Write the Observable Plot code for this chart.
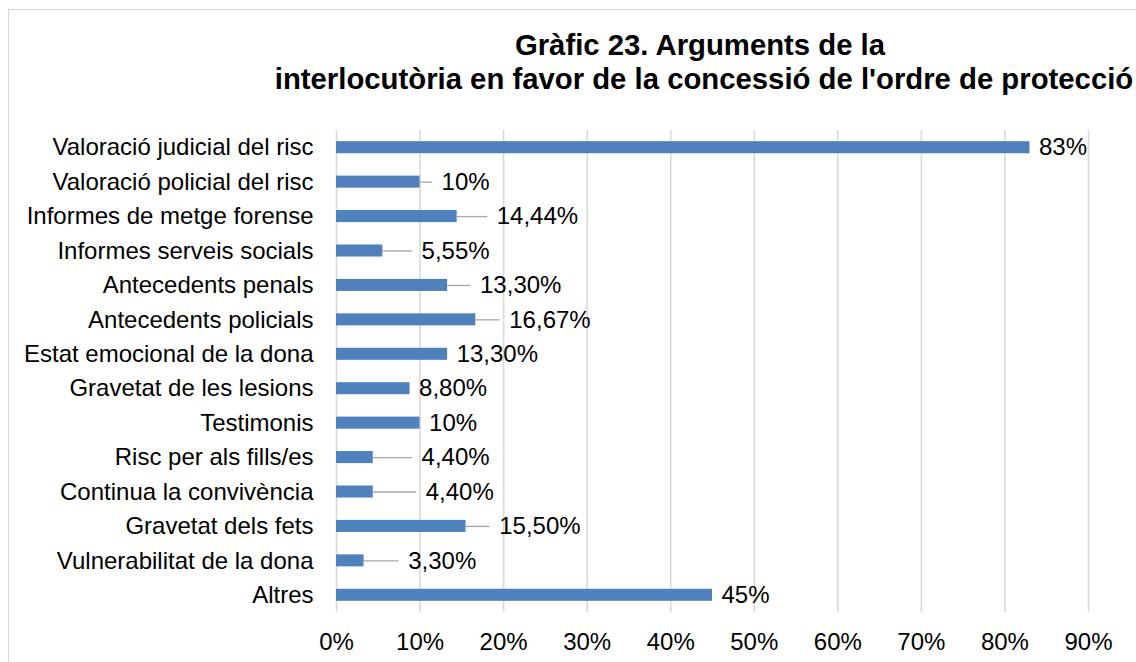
<!DOCTYPE html>
<html>
<head>
<meta charset="utf-8">
<script src="https://cdn.jsdelivr.net/npm/d3@7"></script>
<script src="https://cdn.jsdelivr.net/npm/@observablehq/plot@0.6"></script>
<style>
  html, body { margin: 0; padding: 0; background: #fff; }
  #wrap { position: relative; width: 1136px; height: 662px; overflow: hidden; font-family: "Liberation Sans", Arial, sans-serif; }
  #frame { position: absolute; left: 8px; top: 9px; width: 1140px; height: 670px; border: 1px solid #d9d9d9; box-sizing: border-box; }
  #title { position: absolute; left: 704px; top: 28px; transform: translateX(-50%); white-space: nowrap; text-align: center; font-weight: bold; font-size: 29.3px; line-height: 34px; color: #000; }
  #title .l1 { padding-right: 8px; }
  #chart { position: absolute; left: 0; top: 0; }
</style>
</head>
<body>
<div id="wrap">
  <div id="frame"></div>
  <div id="chart"></div>
  <div id="title"><div class="l1">Gràfic 23. Arguments de la</div><div>interlocutòria en favor de la concessió de l'ordre de protecció</div></div>
</div>
<script>
const categories = [
  "Valoració judicial del risc",
  "Valoració policial del risc",
  "Informes de metge forense",
  "Informes serveis socials",
  "Antecedents penals",
  "Antecedents policials",
  "Estat emocional de la dona",
  "Gravetat de les lesions",
  "Testimonis",
  "Risc per als fills/es",
  "Continua la convivència",
  "Gravetat dels fets",
  "Vulnerabilitat de la dona",
  "Altres"
];
const values = [83, 10, 14.44, 5.55, 13.3, 16.67, 13.3, 8.8, 10, 4.4, 4.4, 15.5, 3.3, 45];
const valueLabels = ["83%", "10%", "14,44%", "5,55%", "13,30%", "16,67%", "13,30%", "8,80%", "10%", "4,40%", "4,40%", "15,50%", "3,30%", "45%"];
// where each (manually moved) data label sits, in percent units
const labelAt = [83, 11.5, 18.1, 9.1, 16.1, 19.6, 13.3, 8.8, 10, 9.1, 9.6, 18.4, 7.5, 45];
const xTicks = [0, 10, 20, 30, 40, 50, 60, 70, 80, 90];

const data = categories.map((c, i) => ({c, v: values[i], label: valueLabels[i], at: labelAt[i]}));
const font = '"Liberation Sans", Arial, sans-serif';

const chart = Plot.plot({
  width: 1136,
  height: 662,
  marginLeft: 336,
  marginRight: 48,
  marginTop: 130,
  marginBottom: 50,
  style: {fontFamily: font, fontSize: "24px", color: "#000", background: "transparent"},
  x: {domain: [0, 90], ticks: xTicks},
  y: {domain: categories, paddingInner: 0.65, paddingOuter: 0.325, round: false},
  marks: [
    Plot.gridX(xTicks, {stroke: "#d9d9d9", strokeOpacity: 1, strokeWidth: 1.6}),
    Plot.axisX({ticks: xTicks, tickSize: 0, tickPadding: 20, tickFormat: d => d + "%", label: null, fontSize: 24, fill: "#000"}),
    Plot.axisY({tickSize: 0, tickPadding: 23, label: null, fontSize: 24, fill: "#000"}),
    Plot.barX(data, {x: "v", y: "c", fill: "#4f81bd"}),
    Plot.ruleY(data.filter(d => d.at > d.v), {y: "c", x1: "v", x2: "at", stroke: "#a6a6a6", strokeWidth: 1.3}),
    Plot.text(data, {x: "at", y: "c", text: "label", textAnchor: "start", dx: 9, fontSize: 24, fill: "#000"})
  ]
});
document.getElementById("chart").appendChild(chart);
</script>
</body>
</html>
